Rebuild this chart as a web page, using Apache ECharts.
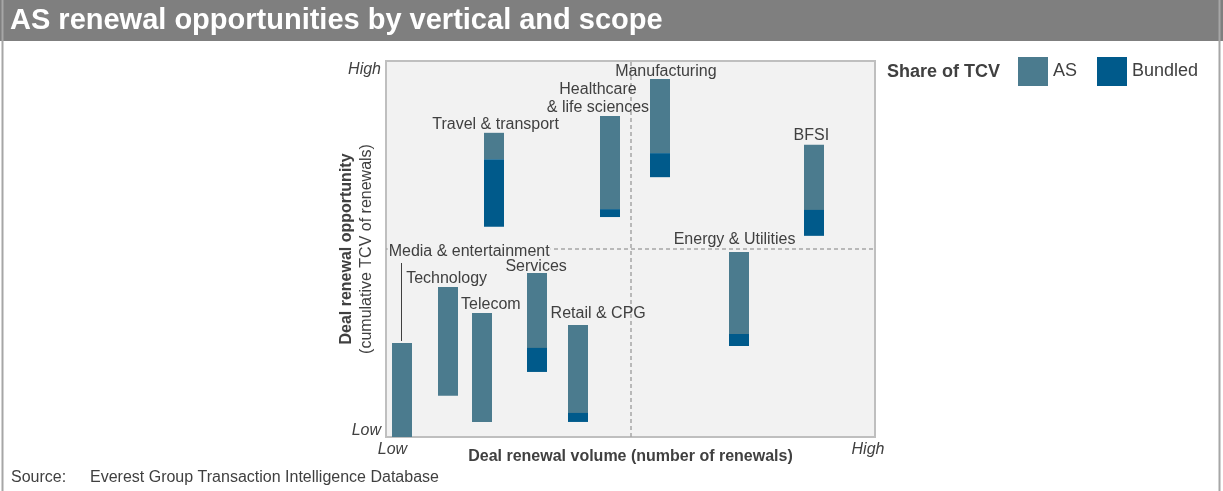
<!DOCTYPE html>
<html>
<head>
<meta charset="utf-8">
<script src="https://cdn.jsdelivr.net/npm/echarts@6/dist/echarts.min.js"></script>
<style>html,body{margin:0;padding:0;background:#fff}#c{width:1223px;height:491px}</style>
</head>
<body>
<div id="c"></div>
<script>
// ---- data (0-100 relative scales) ----
const verticals = ['Media & entertainment','Technology','Telecom','Services','Retail & CPG','Energy & Utilities','Travel & transport','Healthcare\n& life sciences','Manufacturing','BFSI'];
const renewalVolume = [3.3, 12.6, 19.6, 30.8, 39.3, 72.1, 22.1, 45.8, 56.1, 87.5];
const opportunityTop = [25.0, 39.9, 33.0, 43.6, 29.8, 49.2, 80.9, 85.4, 95.2, 77.7];
const asFloor = [0, 11.0, 4.0, 23.7, 6.4, 27.4, 73.9, 60.6, 75.5, 60.4];
const bundledFloor = [0, 11.0, 4.0, 17.3, 4.0, 24.2, 55.9, 58.5, 69.1, 53.5];
const xTickLabels = ['Low', 'High'];
const yTickLabels = ['Low', 'High'];
const seriesNames = ['AS', 'Bundled'];

// ---- label placement (pixel offsets from the top-centre of each bar) ----
const labelOffsets = [[67,-91],[-1,-8],[9,-8],[-0.5,-6],[20,-11.5],[-4,-12],[1.5,-8],[-12,-17],[5.5,-7.5],[-2.5,-9]];
const leaderIndex = 0;

const FONT = '"Liberation Sans", Arial, Helvetica, sans-serif';
const TEXT = '#404040';
const AS_COLOR = '#4b7b8e';
const BUNDLED_COLOR = '#005a8b';

const asData = verticals.map((v, i) => [renewalVolume[i], opportunityTop[i], asFloor[i]]);
const bundledData = verticals.map((v, i) => [renewalVolume[i], asFloor[i], bundledFloor[i]]);
const labelData = verticals.map((v, i) => [renewalVolume[i], opportunityTop[i], i]);

function rangeBar(params, api) {
  const x = api.value(0), hi = api.value(1), lo = api.value(2);
  const a = api.coord([x, hi]), b = api.coord([x, lo]);
  const w = 20;
  return {
    type: 'rect',
    shape: { x: Math.round(a[0] - w / 2), y: a[1], width: w, height: b[1] - a[1] },
    style: { fill: api.visual('color') }
  };
}

function labelItem(params, api) {
  const i = api.value(2);
  const p = api.coord([api.value(0), api.value(1)]);
  const off = labelOffsets[i];
  const isLeader = i === leaderIndex;
  const children = [{
    type: 'text',
    x: p[0] + off[0],
    y: p[1] + off[1],
    style: {
      text: verticals[i], fill: TEXT, fontSize: 16, fontFamily: FONT,
      align: 'center', verticalAlign: 'middle', lineHeight: 18,
      backgroundColor: isLeader ? '#f2f2f2' : 'transparent',
      padding: isLeader ? [0, 1, 0, 1] : 0
    }
  }];
  if (isLeader) {
    const lx = Math.round(p[0]) - 0.5;
    children.push({
      type: 'line',
      shape: { x1: lx, y1: p[1] - 2, x2: lx, y2: p[1] + off[1] + 11 },
      style: { stroke: TEXT, lineWidth: 1 }
    });
  }
  return { type: 'group', children };
}

const chart = echarts.init(document.getElementById('c'));
chart.setOption({
  animation: false,
  backgroundColor: '#ffffff',
  textStyle: { fontFamily: FONT },
  grid: {
    left: 386, top: 61, width: 489, height: 376,
    show: true, backgroundColor: '#f2f2f2', borderColor: '#bfbfbf', borderWidth: 2
  },
  xAxis: {
    type: 'value', min: 0, max: 100, interval: 100,
    axisLine: { show: false }, axisTick: { show: false }, splitLine: { show: false },
    axisLabel: {
      margin: 5,
      formatter: v => v === 0 ? '{lo|' + xTickLabels[0] + '}' : '{hi|' + xTickLabels[1] + '}',
      rich: {
        lo: { fontSize: 16, fontStyle: 'italic', color: TEXT, fontFamily: FONT, padding: [0, 0, 0, 13] },
        hi: { fontSize: 16, fontStyle: 'italic', color: TEXT, fontFamily: FONT, padding: [0, 14, 0, 0] }
      }
    },
    name: 'Deal renewal volume (number of renewals)',
    nameLocation: 'middle', nameGap: 12, nameMoveOverlap: false,
    nameTextStyle: { fontSize: 16, fontWeight: 'bold', color: TEXT, fontFamily: FONT }
  },
  yAxis: {
    type: 'value', min: 0, max: 100, interval: 100,
    axisLine: { show: false }, axisTick: { show: false }, splitLine: { show: false },
    axisLabel: {
      margin: 5,
      formatter: v => v === 0 ? '{lo|' + yTickLabels[0] + '}' : '{hi|' + yTickLabels[1] + '}',
      rich: {
        lo: { fontSize: 16, fontStyle: 'italic', color: TEXT, fontFamily: FONT, padding: [0, 0, 12, 0] },
        hi: { fontSize: 16, fontStyle: 'italic', color: TEXT, fontFamily: FONT, padding: [18, 0, 0, 0] }
      }
    },
    name: '{b|Deal renewal opportunity}\n{r|(cumulative TCV of renewals)}',
    nameLocation: 'middle', nameGap: 10, nameRotate: 90, nameMoveOverlap: false,
    nameTextStyle: {
      color: TEXT, fontFamily: FONT, lineHeight: 19.5,
      rich: {
        b: { fontSize: 16, fontWeight: 'bold', color: TEXT, fontFamily: FONT, lineHeight: 19.5 },
        r: { fontSize: 16, color: TEXT, fontFamily: FONT, lineHeight: 19.5 }
      }
    }
  },
  legend: {
    data: seriesNames.map(n => ({ name: n, icon: 'rect' })),
    left: 1018, top: 57, padding: 0,
    itemWidth: 30, itemHeight: 29, itemGap: 20,
    textStyle: { fontSize: 18, color: TEXT, fontFamily: FONT },
    selectedMode: false
  },
  graphic: [
    { type: 'rect', left: 0, top: 0, shape: { width: 1223, height: 41 }, style: { fill: '#7f7f7f' }, z: 0 },
    { type: 'line', shape: { x1: 2.5, y1: 0, x2: 2.5, y2: 491 }, style: { stroke: '#a6a6a6', lineWidth: 2 }, z: 1 },
    { type: 'line', shape: { x1: 1219.5, y1: 0, x2: 1219.5, y2: 491 }, style: { stroke: '#a6a6a6', lineWidth: 2 }, z: 1 },
    { type: 'text', x: 10, y: 21, style: { text: 'AS renewal opportunities by vertical and scope', fill: '#ffffff', font: 'bold 29px ' + FONT, verticalAlign: 'middle' }, z: 2 },
    { type: 'text', x: 887, y: 72, style: { text: 'Share of TCV', fill: TEXT, font: 'bold 18px ' + FONT, verticalAlign: 'middle' } },
    { type: 'text', x: 11, y: 478, style: { text: 'Source:', fill: TEXT, font: '16px ' + FONT, verticalAlign: 'middle' } },
    { type: 'text', x: 90, y: 478, style: { text: 'Everest Group Transaction Intelligence Database', fill: TEXT, font: '16px ' + FONT, verticalAlign: 'middle' } }
  ],
  series: [
    {
      name: seriesNames[0], type: 'custom', renderItem: rangeBar, data: asData,
      encode: { x: 0, y: [1, 2] }, itemStyle: { color: AS_COLOR }, z: 2,
      markLine: {
        silent: true, symbol: 'none', animation: false,
        label: { show: false },
        lineStyle: { type: [4, 3], color: '#a6a6a6', width: 1.5 },
        data: [{ xAxis: 50 }, { yAxis: 50 }]
      }
    },
    {
      name: seriesNames[1], type: 'custom', renderItem: rangeBar, data: bundledData,
      encode: { x: 0, y: [1, 2] }, itemStyle: { color: BUNDLED_COLOR }, z: 3
    },
    {
      name: 'labels', type: 'custom', renderItem: labelItem, data: labelData,
      encode: { x: 0, y: 1 }, z: 5, silent: true
    }
  ]
});
</script>
</body>
</html>
